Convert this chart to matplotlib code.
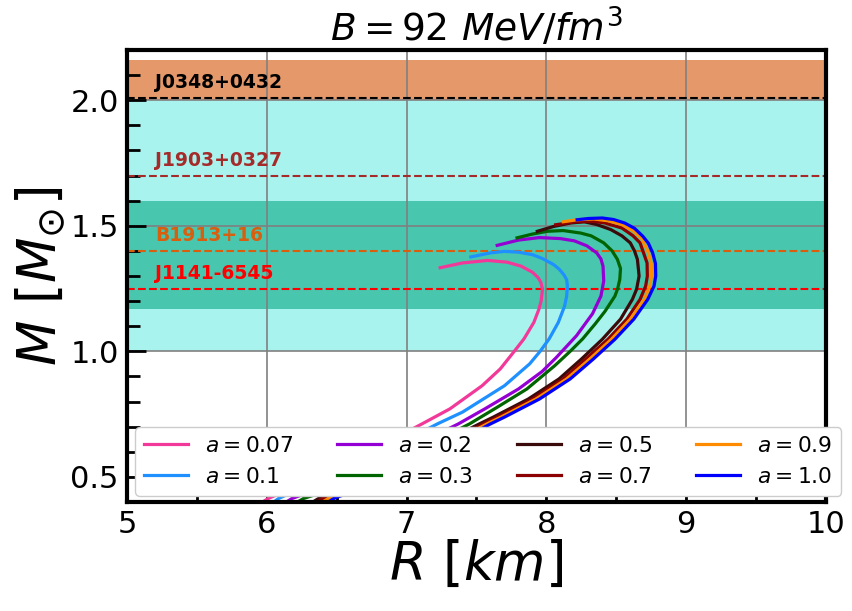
import matplotlib
matplotlib.use("Agg")
import matplotlib.pyplot as plt
from matplotlib.ticker import MultipleLocator

# mass-radius curves (R in km, M in solar masses)
r_a007 = [5.97, 6.01, 6.12, 6.60, 7.11, 7.31, 7.54, 7.67, 7.77, 7.84, 7.91, 7.946, 7.962, 7.972, 7.96, 7.94, 7.90, 7.82, 7.72, 7.58, 7.40, 7.24]
m_a007 = [0.40, 0.414, 0.44, 0.56, 0.711, 0.771, 0.863, 0.93, 1.0, 1.05, 1.115, 1.167, 1.20, 1.247, 1.275, 1.294, 1.315, 1.339, 1.355, 1.362, 1.352, 1.333]

r_a01 = [6.05, 6.084, 6.216, 6.70, 7.22, 7.40, 7.70, 7.88, 7.955, 8.02, 8.085, 8.13, 8.145, 8.15, 8.145, 8.125, 8.09, 8.05, 7.97, 7.90, 7.80, 7.70, 7.60, 7.46]
m_a01 = [0.40, 0.414, 0.447, 0.56, 0.711, 0.758, 0.863, 0.95, 1.0, 1.05, 1.115, 1.18, 1.22, 1.26, 1.285, 1.305, 1.328, 1.346, 1.37, 1.385, 1.395, 1.398, 1.392, 1.376]

r_a02 = [6.14, 6.18, 6.31, 6.82, 7.37, 7.56, 7.80, 7.97, 8.07, 8.215, 8.33, 8.39, 8.41, 8.405, 8.39, 8.36, 8.29, 8.20, 8.10, 7.95, 7.80, 7.648]
m_a02 = [0.40, 0.414, 0.44, 0.56, 0.711, 0.771, 0.85, 0.92, 0.975, 1.062, 1.15, 1.22, 1.28, 1.339, 1.368, 1.392, 1.42, 1.44, 1.449, 1.453, 1.443, 1.422]

r_a03 = [6.22, 6.263, 6.406, 6.92, 7.45, 7.65, 7.86, 8.06, 8.17, 8.26, 8.35, 8.42, 8.49, 8.51, 8.525, 8.53, 8.508, 8.47, 8.41, 8.32, 8.245, 8.12, 8.006, 7.90, 7.79]
m_a03 = [0.40, 0.414, 0.44, 0.56, 0.711, 0.778, 0.85, 0.943, 1.0, 1.05, 1.11, 1.16, 1.22, 1.25, 1.287, 1.33, 1.366, 1.40, 1.432, 1.46, 1.471, 1.481, 1.478, 1.467, 1.452]

r_a05 = [6.33, 6.37, 6.478, 6.98, 7.52, 7.62, 7.87, 8.09, 8.25, 8.40, 8.53, 8.615, 8.645, 8.663, 8.651, 8.63, 8.60, 8.54, 8.46, 8.36, 8.27, 8.173, 8.05, 7.935]
m_a05 = [0.40, 0.414, 0.434, 0.56, 0.711, 0.738, 0.81, 0.89, 0.969, 1.048, 1.128, 1.207, 1.247, 1.30, 1.366, 1.40, 1.432, 1.46, 1.485, 1.505, 1.516, 1.511, 1.497, 1.478]

r_a07 = [6.36, 6.40, 6.51, 7.02, 7.55, 7.65, 7.90, 8.12, 8.28, 8.44, 8.575, 8.67, 8.71, 8.722, 8.72, 8.69, 8.67, 8.62, 8.54, 8.42, 8.33, 8.20, 8.066]
m_a07 = [0.40, 0.414, 0.434, 0.56, 0.711, 0.738, 0.81, 0.89, 0.969, 1.048, 1.128, 1.207, 1.26, 1.30, 1.352, 1.40, 1.432, 1.46, 1.491, 1.511, 1.518, 1.515, 1.504]

r_a09 = [6.40, 6.44, 6.55, 7.06, 7.575, 7.675, 7.925, 8.145, 8.31, 8.465, 8.60, 8.70, 8.74, 8.752, 8.75, 8.725, 8.68, 8.62, 8.54, 8.44, 8.34, 8.22, 8.12]
m_a09 = [0.40, 0.414, 0.434, 0.56, 0.711, 0.738, 0.81, 0.89, 0.969, 1.048, 1.128, 1.207, 1.26, 1.30, 1.35, 1.40, 1.45, 1.48, 1.505, 1.52, 1.527, 1.524, 1.516]

r_a10 = [6.44, 6.48, 6.574, 7.10, 7.60, 7.70, 7.95, 8.17, 8.335, 8.49, 8.625, 8.725, 8.77, 8.782, 8.78, 8.76, 8.73, 8.69, 8.63, 8.56, 8.48, 8.40, 8.30, 8.22]
m_a10 = [0.40, 0.414, 0.434, 0.56, 0.711, 0.738, 0.81, 0.89, 0.969, 1.048, 1.128, 1.207, 1.26, 1.30, 1.35, 1.392, 1.43, 1.458, 1.49, 1.511, 1.525, 1.531, 1.529, 1.524]

curves = [
    (r_a007, m_a007, "0.07", "#f2399a"),
    (r_a01, m_a01, "0.1", "dodgerblue"),
    (r_a02, m_a02, "0.2", "darkviolet"),
    (r_a03, m_a03, "0.3", "darkgreen"),
    (r_a05, m_a05, "0.5", "#3b0a0a"),
    (r_a07, m_a07, "0.7", "darkred"),
    (r_a09, m_a09, "0.9", "darkorange"),
    (r_a10, m_a10, "1.0", "blue"),
]

# pulsar mass constraints
pulsars = ["J0348+0432", "J1903+0327", "B1913+16", "J1141-6545"]
pulsar_mass = [2.01, 1.70, 1.40, 1.25]
pulsar_colors = ["black", "brown", "#d95f0e", "red"]

# shaded bands (lower, upper)
band_orange = (2.0, 2.16)
band_cyan = (1.0, 2.0)
band_teal = (1.17, 1.60)

fig = plt.figure(figsize=(8.53, 6.11), dpi=100)
ax = fig.add_axes([127 / 853, 1 - 502 / 611, 699 / 853, 452 / 611])

ax.axhspan(*band_cyan, color="#a9f3ee", lw=0)
ax.axhspan(*band_teal, color="#48c7ae", lw=0)
ax.axhspan(*band_orange, color="#e5996a", lw=0)

for name, m, c in zip(pulsars, pulsar_mass, pulsar_colors):
    ax.axhline(m, color=c, ls="--", lw=1.5)
    ax.text(5.2, m + 0.022, name, color=c, fontsize=13.5, fontweight="bold", va="bottom")

for r, m, a, c in curves:
    ax.plot(r, m, color=c, lw=2.3, label=rf"$a = {a}$")

ax.set_xlim(5, 10)
ax.set_ylim(0.4, 2.2)
ax.xaxis.set_major_locator(MultipleLocator(1))
ax.xaxis.set_minor_locator(MultipleLocator(0.5))
ax.yaxis.set_major_locator(MultipleLocator(0.5))
ax.yaxis.set_minor_locator(MultipleLocator(0.1))
ax.tick_params(which="both", direction="in", width=2, labelsize=22)
ax.tick_params(which="major", length=14, pad=6)
ax.tick_params(which="minor", length=9)
ax.grid(True, which="major", color="gray", lw=1.2)
for s in ax.spines.values():
    s.set_linewidth(3)

ax.set_xlabel(r"$R\ [km]$", fontsize=38, labelpad=0)
ax.set_ylabel(r"$M\ [M_{\odot}]$", fontsize=38, labelpad=2)
ax.set_title(r"$B = 92\ MeV/fm^3$", fontsize=27, pad=6)

ax.legend(ncol=4, fontsize=15.7, loc="lower left", bbox_to_anchor=(0.012, 0.014),
          framealpha=1, borderaxespad=0, handlelength=2.0, columnspacing=2.0)

fig.savefig("out.png", dpi=100)
